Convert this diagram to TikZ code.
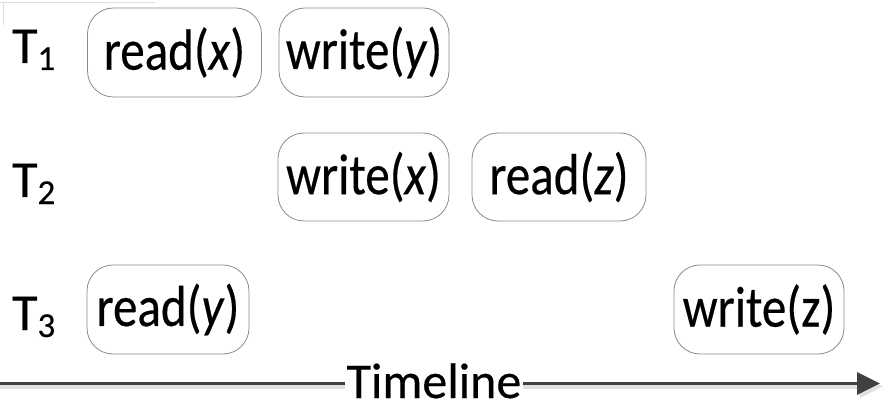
\documentclass[tikz,border=0pt]{standalone}
\usepackage{fontspec}
\setmainfont{Carlito}[FakeBold=0.4]
\usetikzlibrary{arrows.meta}
\definecolor{boxline}{HTML}{8A8A8A}
\definecolor{axis}{HTML}{404040}
\newcommand{\boxtxt}[1]{\fontsize{49}{50}\selectfont\scalebox{1}[1.18]{#1}}
\newcommand{\tlab}[1]{\fontsize{52}{54}\selectfont T\raisebox{-7pt}{\fontsize{35}{36}\selectfont #1}}
\begin{document}
\begin{tikzpicture}[x=1pt,y=-1pt,
  op/.style={draw=boxline, line width=0.8pt, rounded corners=26pt, inner sep=0pt, align=center},
  tl/.style={anchor=base west, inner sep=0pt}]
\useasboundingbox (0,0) rectangle (886,414);
\draw[black!12, line width=1pt] (0,3) -- (155,3);
\draw[black!12, line width=1pt] (3,3) -- (3,25);
% labels
\node[tl] (t1) at (12,63) {\tlab{1}};
\node[tl] (t2) at (12,197) {\tlab{2}};
\node[tl] (t3) at (12,330) {\tlab{3}};
% operations
\node[op, minimum width=174pt, minimum height=89pt] (rx) at (174.5,52.5) {\boxtxt{read(\textit{x})}};
\node[op, minimum width=170pt, minimum height=89pt] (wy) at (364,52.5) {\boxtxt{write(\textit{y})}};
\node[op, minimum width=171pt, minimum height=88pt] (wx) at (363.5,177) {\boxtxt{write(\textit{x})}};
\node[op, minimum width=174pt, minimum height=88pt] (rz) at (559,177) {\boxtxt{read(\textit{z})}};
\node[op, minimum width=162pt, minimum height=89pt] (ry) at (168,309.5) {\boxtxt{read(\textit{y})}};
\node[op, minimum width=170pt, minimum height=89pt] (wz) at (759,309.5) {\boxtxt{write(z)}};
% timeline
\coordinate (a0) at (0,383.5);
\coordinate (a1) at (880,383.5);
\coordinate (s0) at (0,386.5);
\coordinate (s1) at (883,386.5);
\draw[black!12, line width=4pt, -{Triangle[length=23pt,width=22pt]}] (s0) -- (s1);
\draw[axis, line width=3.5pt, -{Triangle[length=23pt,width=22pt]}] (a0) -- (a1);
\node[fill=white, inner xsep=2pt, inner ysep=0pt, anchor=base] (tline) at (434,398) {\fontsize{50}{52}\selectfont Timeline};
\end{tikzpicture}
\end{document}
